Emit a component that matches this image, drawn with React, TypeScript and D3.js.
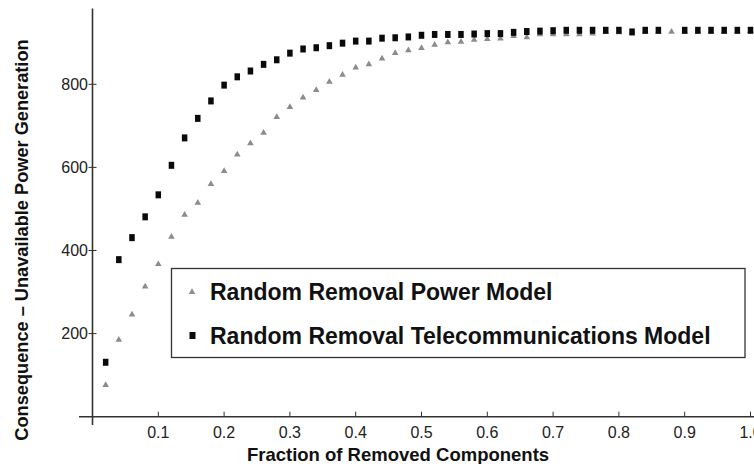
import React, { useEffect, useRef } from "react";
import * as d3 from "d3";

// fraction of removed components
const fractions = [
  0.02, 0.04, 0.06, 0.08, 0.1, 0.12, 0.14, 0.16, 0.18, 0.2,
  0.22, 0.24, 0.26, 0.28, 0.3, 0.32, 0.34, 0.36, 0.38, 0.4,
  0.42, 0.44, 0.46, 0.48, 0.5, 0.52, 0.54, 0.56, 0.58, 0.6,
  0.62, 0.64, 0.66, 0.68, 0.7, 0.72, 0.74, 0.76, 0.78, 0.8,
  0.82, 0.84, 0.86, 0.88, 0.9, 0.92, 0.94, 0.96, 0.98, 1.0,
];

// Random Removal Power Model
const powerValues = [
  76, 185, 246, 313, 367, 433, 486, 515, 560, 591,
  631, 658, 683, 721, 745, 768, 786, 806, 823, 840,
  848, 862, 875, 882, 887, 895, 901, 902, 907, 909,
  910, 916, 913, 920, 920, 920, 920, 922, 926, 925,
  925, 926, 926, 926, 926, 927, 927, 927, 927, 928,
];

// Random Removal Telecommunications Model (no point drawn at 0.88)
const telecomValues: (number | null)[] = [
  131, 378, 431, 481, 534, 605, 671, 718, 760, 798,
  818, 832, 848, 859, 875, 885, 888, 893, 899, 904,
  904, 911, 912, 914, 918, 920, 920, 920, 921, 922,
  922, 925, 927, 928, 929, 930, 930, 930, 930, 930,
  926, 930, 930, null, 930, 930, 930, 930, 930, 930,
];

const xTicks = [0.1, 0.2, 0.3, 0.4, 0.5, 0.6, 0.7, 0.8, 0.9, 1.0];
const yTicks = [200, 400, 600, 800];

const legendLabels = [
  "Random Removal Power Model",
  "Random Removal Telecommunications Model",
];

export default function App() {
  const ref = useRef<SVGSVGElement>(null);

  useEffect(() => {
    const svg = d3.select(ref.current);
    svg.selectAll("*").remove();

    const x = d3.scaleLinear().domain([0, 1]).range([92.5, 750.5]);
    const y = d3.scaleLinear().domain([0, 1000]).range([416.7, 1.2]);
    const axisColor = "#333";
    const font = "'Liberation Sans', Arial, sans-serif";

    // axis lines
    svg.append("line")
      .attr("x1", 79).attr("x2", 754)
      .attr("y1", y(0)).attr("y2", y(0))
      .attr("stroke", axisColor).attr("stroke-width", 1.6);
    svg.append("line")
      .attr("x1", x(0)).attr("x2", x(0))
      .attr("y1", 8.5).attr("y2", 425)
      .attr("stroke", axisColor).attr("stroke-width", 1.6);

    // x ticks (pointing up) and labels
    const xg = svg.append("g");
    xg.selectAll("line").data(xTicks).join("line")
      .attr("x1", d => x(d)).attr("x2", d => x(d))
      .attr("y1", y(0)).attr("y2", y(0) - 5)
      .attr("stroke", axisColor).attr("stroke-width", 1);
    xg.selectAll("text").data(xTicks).join("text")
      .attr("x", d => x(d)).attr("y", 437.5)
      .attr("text-anchor", "middle")
      .style("font-family", font).style("font-size", "16px").attr("fill", "#222")
      .text(d => d3.format(".1f")(d));

    // y ticks (crossing the axis) and labels
    const yg = svg.append("g");
    yg.selectAll("line").data(yTicks).join("line")
      .attr("x1", x(0) - 4).attr("x2", x(0) + 4)
      .attr("y1", d => y(d)).attr("y2", d => y(d))
      .attr("stroke", axisColor).attr("stroke-width", 1);
    yg.selectAll("text").data(yTicks).join("text")
      .attr("x", 88).attr("y", d => y(d) + 5.8)
      .attr("text-anchor", "end")
      .style("font-family", font).style("font-size", "16px").attr("fill", "#222")
      .text(d => d);

    // axis titles
    svg.append("text")
      .attr("x", 398).attr("y", 461)
      .attr("text-anchor", "middle")
      .style("font-family", font).style("font-size", "18.5px").style("font-weight", "bold")
      .attr("fill", "#111")
      .text("Fraction of Removed Components");
    svg.append("text")
      .attr("transform", "translate(28,240) rotate(-90)")
      .attr("text-anchor", "middle")
      .style("font-family", font).style("font-size", "18.2px").style("font-weight", "bold")
      .attr("fill", "#111")
      .text("Consequence \u2013 Unavailable Power Generation");

    const tri = d3.symbol().type(d3.symbolTriangle).size(19);

    // power model (grey triangles)
    svg.append("g").selectAll("path")
      .data(fractions.map((f, i) => [f, powerValues[i]] as [number, number]))
      .join("path")
      .attr("d", tri)
      .attr("transform", d => `translate(${x(d[0])},${y(d[1])})`)
      .attr("fill", "#8c8c8c");

    // telecom model (black squares)
    svg.append("g").selectAll("rect")
      .data(fractions.map((f, i) => [f, telecomValues[i]]).filter(d => d[1] != null) as [number, number][])
      .join("rect")
      .attr("x", d => x(d[0]) - 2.75).attr("y", d => y(d[1]) - 3.5)
      .attr("width", 5.5).attr("height", 7)
      .attr("fill", "#0a0a0a");

    // legend
    const lg = svg.append("g");
    lg.append("rect")
      .attr("x", 171.5).attr("y", 268.5).attr("width", 573.5).attr("height", 89)
      .attr("fill", "white").attr("stroke", "#333").attr("stroke-width", 1.3);
    lg.append("path").attr("d", tri).attr("transform", "translate(192,292)").attr("fill", "#8c8c8c");
    lg.append("rect").attr("x", 189.5).attr("y", 332).attr("width", 6).attr("height", 7).attr("fill", "#0a0a0a");
    lg.selectAll("text.lab").data(legendLabels).join("text")
      .attr("class", "lab")
      .attr("x", 210).attr("y", (d, i) => 300 + i * 44)
      .style("font-family", font).style("font-size", "23px").style("font-weight", "bold")
      .attr("fill", "#111")
      .text(d => d);
  }, []);

  return (
    <svg ref={ref} width={754} height={464}
      style={{ position: "absolute", left: 0, top: 0, background: "white" }} />
  );
}
